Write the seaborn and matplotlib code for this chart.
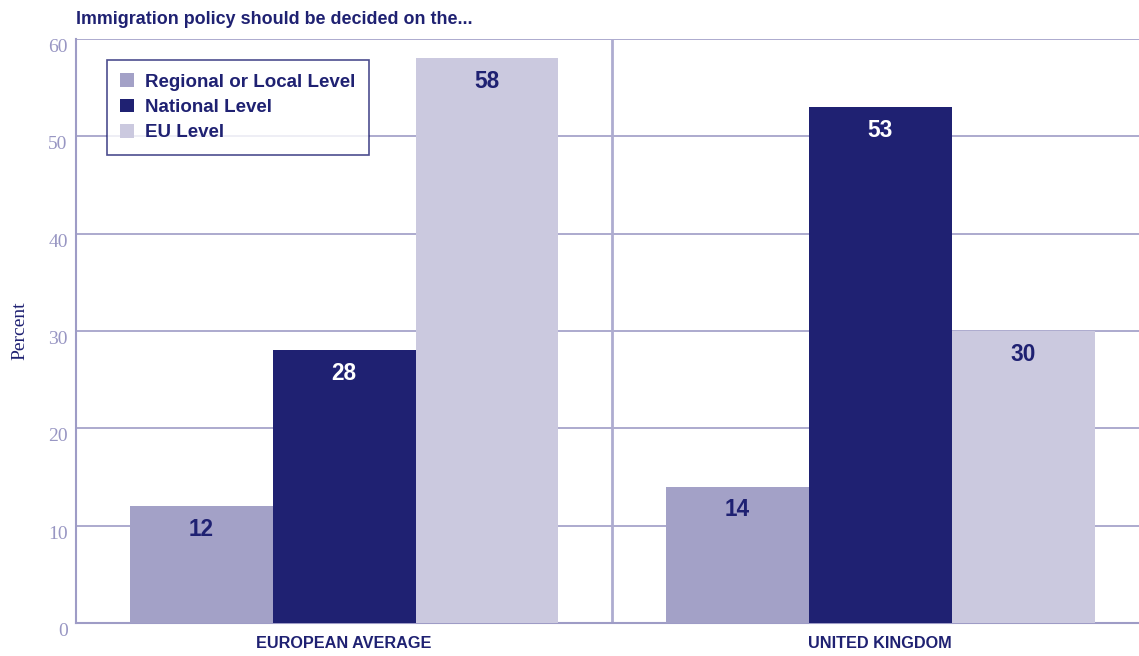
import matplotlib
matplotlib.use("Agg")
import matplotlib.pyplot as plt
import matplotlib.transforms as mtransforms
import seaborn as sns
import pandas as pd
from matplotlib.patches import Patch

# Survey results: preferred level for immigration policy decisions
regions = ["EUROPEAN AVERAGE", "UNITED KINGDOM"]
levels = ["Regional or Local Level", "National Level", "EU Level"]
regional_local = [12, 14]
national = [28, 53]
eu_level = [58, 30]

title = "Immigration policy should be decided on the..."
y_ticks = [0, 10, 20, 30, 40, 50, 60]

navy = "#1F2172"
lavender = "#9E9CC6"
palette = {"Regional or Local Level": "#A3A1C7",
           "National Level": "#1F2172",
           "EU Level": "#CBC9DF"}
label_colors = {"Regional or Local Level": navy,
                "National Level": "white",
                "EU Level": navy}

rows = []
for lvl, vals in zip(levels, [regional_local, national, eu_level]):
    for reg, v in zip(regions, vals):
        rows.append({"region": reg, "level": lvl, "percent": v})
df = pd.DataFrame(rows)

sns.set_theme(style="white")
plt.rcParams["font.family"] = ["Liberation Sans", "DejaVu Sans"]
serif = ["Liberation Serif", "DejaVu Serif"]

fig = plt.figure(figsize=(11.39, 6.56), dpi=100)
ax = fig.add_axes([76 / 1139, 33 / 656, 1 - 76 / 1139, (623 - 39) / 656])

sns.barplot(data=df, x="region", y="percent", hue="level", order=regions,
            hue_order=levels, palette=palette, width=0.8, saturation=1,
            errorbar=None, ax=ax, zorder=3, legend=False, linewidth=0)

ax.set_xlim(-0.5, 1.483)
ax.set_ylim(0, 60)
ax.set_yticks(y_ticks)
ax.yaxis.grid(True, color=lavender, linewidth=1.2, zorder=0)
ax.set_axisbelow(True)
ax.axvline(0.5, color="#AEACD0", linewidth=2, zorder=1)

for side in ["top", "right"]:
    ax.spines[side].set_visible(False)
for side in ["left", "bottom"]:
    ax.spines[side].set_color(lavender)
    ax.spines[side].set_linewidth(1.5)

ax.tick_params(axis="y", length=0, pad=6, labelsize=14, labelcolor="#9896C3")
shift_down = mtransforms.ScaledTranslation(0, -6.5 / 100, fig.dpi_scale_trans)
for lbl in ax.get_yticklabels():
    lbl.set_family(serif)
    lbl.set_transform(lbl.get_transform() + shift_down)
ax.tick_params(axis="x", length=0, pad=9)
for lbl in ax.get_xticklabels():
    lbl.set_fontsize(11.7)
    lbl.set_fontweight("bold")
    lbl.set_color(navy)

ax.set_xlabel("")
ax.set_ylabel("Percent", family=serif, fontsize=14, color=navy)
ax.yaxis.set_label_coords((28 - 76) / 1063, 0.5)

# Value labels inside the top of each bar
for lvl, cont in zip(levels, ax.containers):
    vals = df[df["level"] == lvl].set_index("region").loc[regions, "percent"]
    ax.bar_label(cont, labels=[str(v) for v in vals], padding=-25,
                 color=label_colors[lvl], fontsize=16.3, fontweight="bold")

handles = [Patch(facecolor=palette[l], edgecolor="none", label=l) for l in levels]
leg = ax.legend(handles=handles, loc="upper left",
                bbox_to_anchor=((107 - 76) / 1063, (623 - 60) / 584),
                frameon=True, fancybox=False, handlelength=0.75,
                handleheight=0.75, handletextpad=0.6, labelspacing=0.43,
                borderpad=0.7, borderaxespad=0,
                prop={"weight": "bold", "size": 13.5})
leg.get_frame().set_edgecolor(navy)
leg.get_frame().set_linewidth(1.2)
for t in leg.get_texts():
    t.set_color(navy)

fig.text(76 / 1139, 1 - 19 / 656, title, color=navy, fontsize=12.9,
         fontweight="bold", va="center", ha="left")

fig.savefig("out.png", dpi=100)
